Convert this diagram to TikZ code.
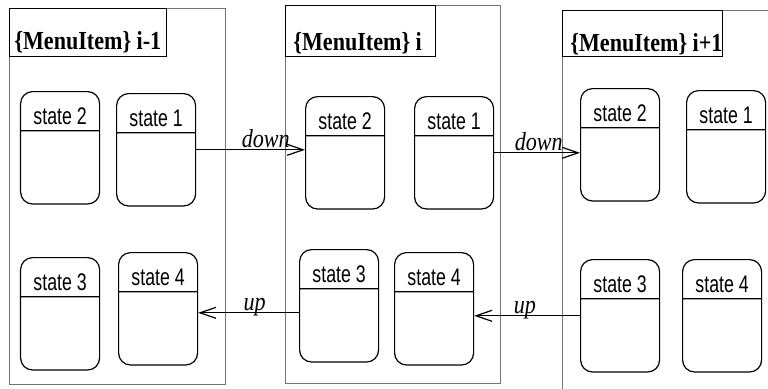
\documentclass[tikz,border=0pt]{standalone}
\usepackage{fontspec}
\usetikzlibrary{shapes.multipart, arrows.meta, calc}
\newfontfamily\statefont[FakeStretch=0.74]{Liberation Sans}
\newfontfamily\itemfont[FakeStretch=0.85]{Liberation Serif}
\tikzstyle{item} = [rectangle, draw=black!55, line width=0.6pt, anchor=north west, inner sep=0pt]
\tikzstyle{itemtitle} = [rectangle, draw=black, line width=0.6pt, anchor=north west, inner sep=0pt]
\tikzstyle{titletext} = [anchor=base west, inner sep=0pt, font=\itemfont\bfseries\fontsize{13pt}{13pt}\selectfont]
\tikzstyle{state} = [rectangle split, rectangle split parts=2, draw=black, line width=0.6pt, rounded corners=6pt, minimum width=39.5pt, inner xsep=1pt, inner ysep=0pt, anchor=north west, font=\statefont\fontsize{12pt}{12pt}\selectfont]
\tikzstyle{arrow} = [line width=0.6pt, -{Straight Barb[length=8pt, width=5.5pt]}]
\tikzstyle{event} = [anchor=base, inner sep=0pt, yshift=1pt, font=\itemfont\itshape\fontsize{13pt}{13pt}\selectfont]
% header part and empty body of a state
\newcommand{\hd}[1]{\rule[-3pt]{0pt}{19pt}#1\nodepart{two}\rule{0pt}{36pt}}

\begin{document}
\begin{tikzpicture}[x=0.5pt, y=-0.5pt]
\useasboundingbox (0,0) rectangle (768,388);
\clip (0,0) rectangle (768,388);
%menu items
\node[item, minimum width=108pt, minimum height=188pt] (prev) at (9,8) {};
\node[itemtitle, minimum width=78.5pt, minimum height=24pt] (prevt) at (9,8) {};
\node[titletext] at ($(prevt.south west)+(5,-8)$) {\{MenuItem\} i-1};

\node[item, minimum width=107.5pt, minimum height=189pt] (cur) at (285,5) {};
\node[itemtitle, minimum width=75pt, minimum height=25.5pt] (curt) at (285,5) {};
\node[titletext] at ($(curt.south west)+(8,-7)$) {\{MenuItem\} i};

\node[item, minimum width=115pt, minimum height=192.5pt] (next) at (562,10) {};
\node[itemtitle, minimum width=80pt, minimum height=23pt] (nextt) at (562,10) {};
\node[titletext] at ($(nextt.south west)+(8,-6)$) {\{MenuItem\} i+1};

%states
\node[state] (prev2) at (20,91) {\hd{state 2}};
\node[state] (prev1) at (116,93) {\hd{state 1}};
\node[state] (prev3) at (20,257) {\hd{state 3}};
\node[state] (prev4) at (118,252) {\hd{state 4}};

\node[state] (cur2) at (305,96) {\hd{state 2}};
\node[state] (cur1) at (414,96) {\hd{state 1}};
\node[state] (cur3) at (299,249) {\hd{state 3}};
\node[state] (cur4) at (394,252) {\hd{state 4}};

\node[state] (next2) at (580,88) {\hd{state 2}};
\node[state] (next1) at (686,90) {\hd{state 1}};
\node[state] (next3) at (580,259) {\hd{state 3}};
\node[state] (next4) at (682,259) {\hd{state 4}};

%arrows
\draw [arrow] (prev1.east) -- node[event, pos=.64] {down} (prev1.east -| cur2.west);
\draw [arrow] (cur1.east) -- node[event, pos=.52] {down} (cur1.east -| next2.west);
\coordinate (up1) at ([yshift=-3.5pt]cur3.west);
\draw [arrow] (up1) -- node[event, pos=.44] {up} (up1 -| prev4.east);
\draw [arrow] (next3.west) -- node[event, pos=.52] {up} (next3.west -| cur4.east);
\end{tikzpicture}
\end{document}
